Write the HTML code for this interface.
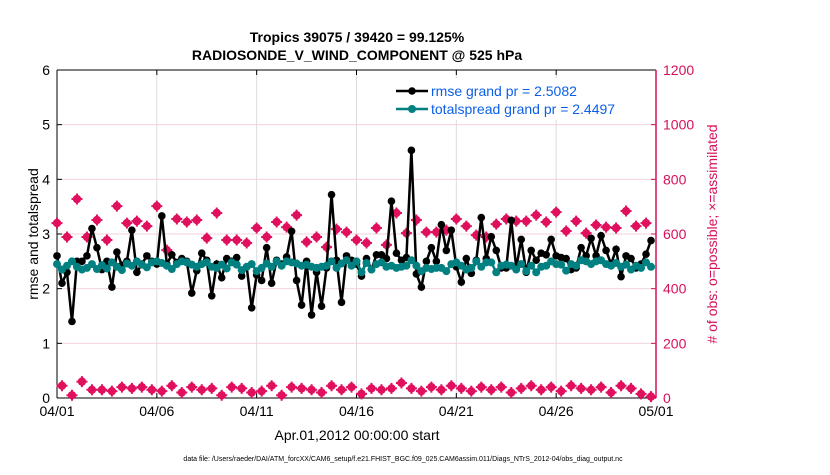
<!DOCTYPE html>
<html><head><meta charset="utf-8"><style>
body{margin:0;background:#fff;font-family:"Liberation Sans",sans-serif}
svg text{font-family:"Liberation Sans",sans-serif}
</style></head><body>
<svg id="chart" width="830" height="470" viewBox="0 0 830 470" xmlns="http://www.w3.org/2000/svg">
<rect width="830" height="470" fill="#fff"/>
<text x="357" y="42" text-anchor="middle" font-size="14" font-weight="bold">Tropics 39075 / 39420 = 99.125%</text>
<text x="357" y="60" text-anchor="middle" font-size="14" font-weight="bold">RADIOSONDE_V_WIND_COMPONENT @ 525 hPa</text>
<g id="grid"></g>
<g id="axes"></g>
<g id="marks"></g>
<g>
<rect x="388" y="78" width="264" height="42" fill="#fff"/>
<line x1="396" y1="91" x2="428" y2="91" stroke="#000" stroke-width="2.5"/>
<circle cx="412" cy="91" r="3.8" fill="#000"/>
<text x="431" y="96" font-size="14" fill="#0b5fe8">rmse grand pr = 2.5082</text>
<line x1="396" y1="109" x2="428" y2="109" stroke="#008080" stroke-width="2.5"/>
<circle cx="412" cy="109" r="4" fill="#008080"/>
<text x="431" y="114" font-size="14" fill="#0b5fe8">totalspread grand pr = 2.4497</text>
</g>
<text transform="translate(38,234) rotate(-90)" text-anchor="middle" font-size="14">rmse and totalspread</text>
<text transform="translate(717,234) rotate(-90)" text-anchor="middle" font-size="14" fill="#d6105a"># of obs: o=possible; ×=assimilated</text>
<text x="357" y="440" text-anchor="middle" font-size="14">Apr.01,2012 00:00:00 start</text>
<text x="403" y="461" text-anchor="middle" font-size="7">data file: /Users/raeder/DAI/ATM_forcXX/CAM6_setup/f.e21.FHIST_BGC.f09_025.CAM6assim.011/Diags_NTrS_2012-04/obs_diag_output.nc</text>
</svg>
<script>
const xTickLabels=["04/01","04/06","04/11","04/16","04/21","04/26","05/01"];
const yTicksLeft=[0,1,2,3,4,5,6];
const yTicksRight=[0,200,400,600,800,1000,1200];
const rmse=[2.6,2.1,2.3,1.4,2.5,2.5,2.6,3.1,2.75,2.35,2.5,2.03,2.67,2.43,2.5,3.07,2.3,2.45,2.6,2.5,2.45,3.33,2.45,2.62,2.48,2.55,2.5,1.92,2.33,2.65,2.52,1.87,2.45,2.2,2.55,2.5,2.57,2.23,2.4,1.65,2.25,2.15,2.75,2.1,2.52,2.45,2.58,3.05,2.15,1.7,2.5,1.52,2.3,1.68,2.38,3.72,2.52,1.75,2.6,2.52,2.45,2.23,2.55,2.35,2.62,2.62,2.55,3.6,2.65,2.52,2.57,4.53,2.27,2.03,2.5,2.75,2.5,3.17,2.7,3.07,2.4,2.12,2.55,2.28,2.52,3.3,2.55,2.95,2.7,2.38,2.38,3.25,2.38,2.9,2.3,2.7,2.52,2.65,2.62,2.9,2.6,2.57,2.55,2.35,2.38,2.75,2.6,2.92,2.6,2.97,2.7,2.45,2.72,2.22,2.6,2.55,2.38,2.45,2.63,2.88];
const spread=[2.45,2.35,2.42,2.5,2.4,2.35,2.38,2.45,2.36,2.43,2.37,2.48,2.4,2.34,2.46,2.42,2.5,2.44,2.39,2.48,2.5,2.47,2.42,2.36,2.45,2.5,2.48,2.44,2.4,2.45,2.48,2.4,2.38,2.44,2.37,2.48,2.44,2.34,2.4,2.45,2.32,2.38,2.46,2.4,2.5,2.42,2.5,2.48,2.46,2.42,2.44,2.4,2.38,2.4,2.42,2.5,2.38,2.46,2.52,2.42,2.5,2.3,2.47,2.35,2.45,2.48,2.4,2.42,2.38,2.4,2.42,2.52,2.42,2.32,2.38,2.36,2.38,2.38,2.32,2.45,2.48,2.42,2.35,2.38,2.5,2.4,2.48,2.48,2.3,2.42,2.44,2.42,2.35,2.45,2.32,2.42,2.3,2.4,2.42,2.5,2.45,2.44,2.33,2.45,2.42,2.52,2.5,2.45,2.5,2.52,2.45,2.42,2.47,2.4,2.44,2.35,2.42,2.38,2.48,2.4];
const obsUpper=[640,589,728,589,651,578,702,640,647,629,702,541,655,644,651,585,677,578,578,567,622,589,644,625,669,571,589,552,618,607,578,567,622,560,677,603,651,607,607,614,655,629,596,589,636,655,647,647,669,644,680,611,647,603,633,625,622,684,629,640];
const obsLower=[45,10,60,30,30,25,40,35,40,30,25,45,20,40,30,35,10,40,35,20,25,45,10,40,35,30,20,45,30,40,15,35,30,35,55,35,25,40,30,45,35,25,40,30,40,20,35,45,30,40,25,45,35,30,40,20,45,35,15,5];
const NS="http://www.w3.org/2000/svg";
const X0=57,X1=656,Y0=398,Y1=70;
const xDay=d=>X0+(X1-X0)*d/30;
const yL=v=>Y0-(Y0-Y1)*v/6;
const yR=v=>Y0-(Y0-Y1)*v/1200;
function mk(tag,attrs,parent){const e=document.createElementNS(NS,tag);for(const k in attrs)e.setAttribute(k,attrs[k]);parent.appendChild(e);return e;}
const grid=document.getElementById('grid'),axes=document.getElementById('axes'),marks=document.getElementById('marks');
xTickLabels.forEach((t,i)=>{const x=xDay(i*5);
 if(i>0&&i<6){const g=mk('line',{x1:x,y1:Y1,x2:x,y2:Y0,stroke:'#dcdcdc','stroke-width':1},grid);}
 const tx=mk('text',{x:x,y:416,'text-anchor':'middle','font-size':14},axes);tx.textContent=t;
 
 
 mk('line',{x1:x,y1:Y0,x2:x,y2:Y0-5,stroke:'#000'},axes);
 mk('line',{x1:x,y1:Y1,x2:x,y2:Y1+5,stroke:'#000'},axes);
});
yTicksRight.forEach(v=>{const y=yR(v);
 if(v>0&&v<1200){const g=mk('line',{x1:X0,y1:y,x2:X1,y2:y,stroke:'#f3d3df','stroke-width':1},grid);}
 const t=mk('text',{x:663,y:y+5,'font-size':14,fill:'#d6105a'},axes);t.textContent=v;
 
 
 mk('line',{x1:X1,y1:y,x2:X1-5,y2:y,stroke:'#d6105a'},axes);
});
yTicksLeft.forEach(v=>{const y=yL(v);
 const t=mk('text',{x:50,y:y+5,'text-anchor':'end','font-size':14},axes);t.textContent=v;
 
 
 mk('line',{x1:X0,y1:y,x2:X0+5,y2:y,stroke:'#000'},axes);
});
mk('line',{x1:X0,y1:Y1,x2:X0,y2:Y0,stroke:'#000'},axes);
mk('line',{x1:X0,y1:Y0,x2:X1,y2:Y0,stroke:'#000'},axes);
mk('line',{x1:X0,y1:Y1,x2:X1,y2:Y1,stroke:'#000'},axes);
mk('line',{x1:X1,y1:Y1,x2:X1,y2:Y0,stroke:'#d6105a','stroke-width':1.5},axes);
function obsMarker(x,y,name){const g=mk('g',{},marks);
 
 
 mk('circle',{cx:x,cy:y,r:4.2,fill:'#e0105e'},g);
 mk('path',{d:`M${x-5.5} ${y}H${x+5.5}M${x} ${y-5.5}V${y+5.5}`,stroke:'#e0105e','stroke-width':2},g);
}
obsUpper.forEach((v,j)=>obsMarker(xDay(j*0.5),yR(v),'obs-count-upper'));
obsLower.forEach((v,j)=>obsMarker(xDay(j*0.5+0.25),yR(v),'obs-count-lower'));
const rl=mk('polyline',{points:rmse.map((v,i)=>xDay(i*0.25)+','+yL(v)).join(' '),fill:'none',stroke:'#000','stroke-width':2.5},marks);


rmse.forEach((v,i)=>{const c=mk('circle',{cx:xDay(i*0.25),cy:yL(v),r:3.8,fill:'#000'},marks);
 
 });
const sp=mk('polyline',{points:spread.map((v,i)=>xDay(i*0.25)+','+yL(v)).join(' '),fill:'none',stroke:'#008080','stroke-width':2.5},marks);


spread.forEach((v,i)=>{const r=mk('circle',{cx:xDay(i*0.25),cy:yL(v),r:4,fill:'#008080'},marks);
 
 });
</script>
</body></html>
